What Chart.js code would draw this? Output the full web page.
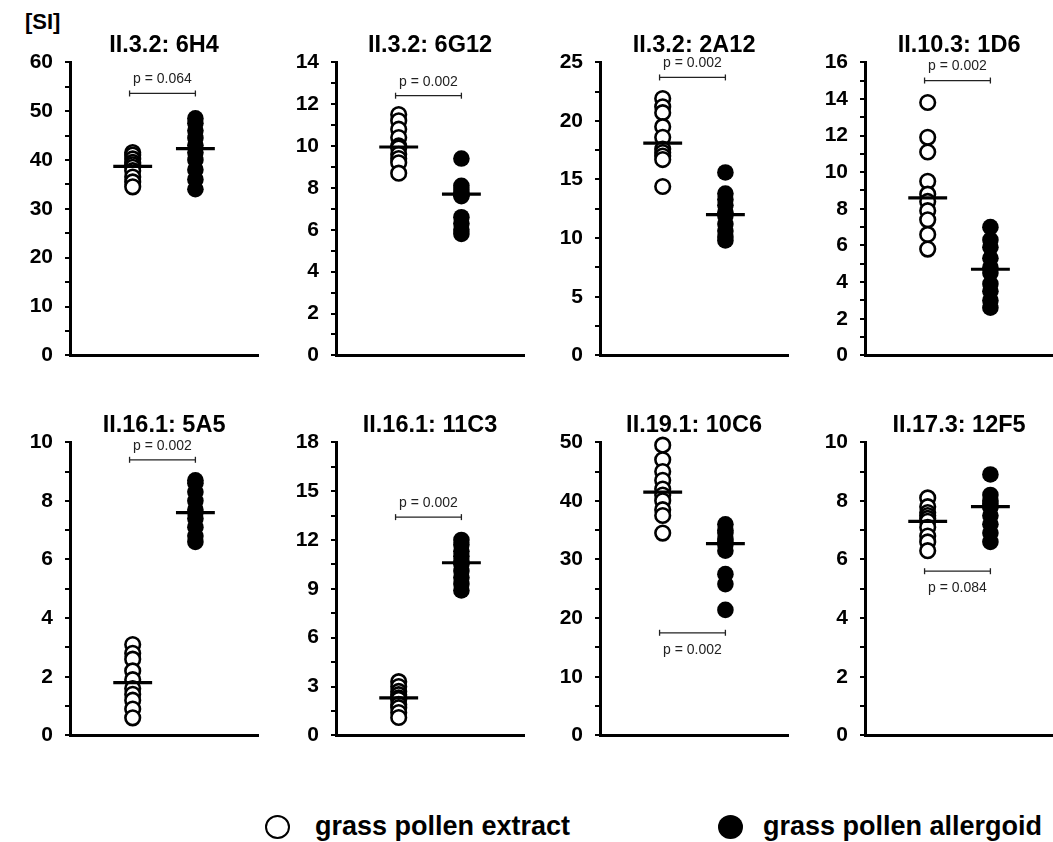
<!DOCTYPE html>
<html>
<head>
<meta charset="utf-8">
<script src="https://cdn.jsdelivr.net/npm/chart.js@4.4.0/dist/chart.umd.min.js"></script>
<style>
    body { margin: 0; width: 1053px; height: 842px; overflow: hidden; background: #fff; position: relative;
           font-family: "Liberation Sans", Arial, sans-serif; color: #000; }
    canvas { position: absolute; }
    #si { position: absolute; left: 25px; top: 9px; font-weight: bold; font-size: 22px; }
    .legend { position: absolute; top: 811px; font-weight: bold; font-size: 27px; line-height: 30px; }
    .mark { position: absolute; border-radius: 50%; box-sizing: border-box; }
</style>
</head>
<body>
<div id="si">[SI]</div>
<span class="mark" style="left:265px;top:815px;width:25px;height:24px;border:2.8px solid #000;"></span>
<div class="legend" style="left:315px;">grass pollen extract</div>
<span class="mark" style="left:718px;top:815px;width:25px;height:24px;background:#000;"></span>
<div class="legend" style="left:763px;">grass pollen allergoid</div>

<script>
// Panel titles and y scales
const titles = ['II.3.2: 6H4', 'II.3.2: 6G12', 'II.3.2: 2A12', 'II.10.3: 1D6',
                'II.16.1: 5A5', 'II.16.1: 11C3', 'II.19.1: 10C6', 'II.17.3: 12F5'];
const yMax = [60, 14, 25, 16, 10, 18, 50, 10];
const majorStep = [10, 2, 5, 2, 2, 3, 10, 2];
const minorStep = [5, 1, 2.5, 1, 1, 1.5, 5, 1];

// SI values, open circles (grass pollen extract)
const extract = [
    [41.5, 41.0, 40.2, 39.5, 39.0, 38.5, 37.8, 36.5, 35.5, 34.5],
    [11.5, 11.2, 10.8, 10.4, 10.0, 9.9, 9.6, 9.4, 9.2, 8.7],
    [21.9, 21.2, 20.7, 19.5, 18.6, 17.6, 17.3, 17.0, 16.7, 14.4],
    [13.8, 11.9, 11.1, 9.5, 8.8, 8.4, 7.9, 7.4, 6.6, 5.8],
    [3.1, 2.8, 2.6, 2.2, 1.9, 1.6, 1.4, 1.2, 0.9, 0.6],
    [3.3, 3.0, 2.7, 2.5, 2.3, 2.2, 1.9, 1.7, 1.4, 1.1],
    [49.5, 47.0, 45.0, 43.5, 42.0, 41.0, 40.0, 38.5, 37.5, 34.5],
    [8.1, 7.8, 7.6, 7.5, 7.4, 7.3, 7.1, 6.8, 6.6, 6.3]
];
// SI values, filled circles (grass pollen allergoid)
const allergoid = [
    [48.5, 47.5, 46.0, 44.5, 43.0, 41.5, 40.0, 38.0, 36.0, 34.0],
    [9.4, 8.1, 7.9, 7.7, 7.7, 7.6, 6.6, 6.3, 6.0, 5.8],
    [15.6, 13.8, 13.3, 12.8, 12.2, 11.9, 11.2, 10.6, 10.1, 9.8],
    [7.0, 6.3, 5.9, 5.3, 4.8, 4.5, 3.9, 3.5, 3.0, 2.6],
    [8.7, 8.6, 8.3, 8.0, 7.7, 7.6, 7.4, 7.1, 6.8, 6.6],
    [12.0, 11.7, 11.3, 11.0, 10.7, 10.5, 10.1, 9.7, 9.3, 8.9],
    [36.0, 35.0, 34.5, 33.5, 33.0, 32.5, 31.5, 27.5, 25.8, 21.4],
    [8.9, 8.2, 8.0, 7.9, 7.8, 7.8, 7.5, 7.2, 6.9, 6.6]
];
const extractMedian = [38.7, 9.95, 18.1, 8.6, 1.8, 2.3, 41.5, 7.3];
const allergoidMedian = [42.3, 7.7, 12.0, 4.7, 7.6, 10.6, 32.7, 7.8];

// p values and bracket heights
const pLabels = ['p = 0.064', 'p = 0.002', 'p = 0.002', 'p = 0.002',
                 'p = 0.002', 'p = 0.002', 'p = 0.002', 'p = 0.084'];
const pBarY = [53.6, 12.4, 23.7, 15.0, 9.4, 13.4, 17.5, 5.6];
const pTextBelow = [false, false, false, false, false, false, true, true];

const FONT = '"Liberation Sans", Arial, sans-serif';
const axisLeft = [70, 336, 600, 865];
const HALF = 0.31;

// Draws the p value text next to its bracket
const pTextPlugin = {
    id: 'pText',
    afterDatasetsDraw(chart, args, opts) {
        const i = opts.index;
        const ctx = chart.ctx;
        const x = chart.scales.x.getPixelForValue(1.475);
        const y = chart.scales.y.getPixelForValue(pBarY[i]);
        ctx.save();
        ctx.font = '14px ' + FONT;
        ctx.fillStyle = '#222';
        ctx.textAlign = 'center';
        ctx.textBaseline = 'middle';
        ctx.fillText(pLabels[i], x, pTextBelow[i] ? y + 17 : y - 14);
        ctx.restore();
    }
};

function lineSet(points, width, color) {
    return { type: 'line', data: points, borderColor: color, borderWidth: width,
             pointRadius: 0, fill: false, order: 0 };
}

function makePanel(i) {
    const col = i % 4, row = Math.floor(i / 4);
    const canvas = document.createElement('canvas');
    canvas.width = 263;
    canvas.height = 380;
    canvas.style.left = (axisLeft[col] - 65) + 'px';
    canvas.style.top = (row * 380) + 'px';
    document.body.appendChild(canvas);

    const bracket = {
        type: 'line',
        data: [{ x: 0.95, y: pBarY[i] }, { x: 2.0, y: pBarY[i] }],
        borderColor: '#222', borderWidth: 1.3,
        pointStyle: 'line', rotation: 90, pointRadius: 3,
        pointBorderColor: '#222', pointBorderWidth: 1.3, order: 0
    };

    new Chart(canvas.getContext('2d'), {
        type: 'scatter',
        data: {
            datasets: [
                lineSet([{ x: 1 - HALF, y: extractMedian[i] }, { x: 1 + HALF, y: extractMedian[i] }], 3.2, '#000'),
                lineSet([{ x: 2 - HALF, y: allergoidMedian[i] }, { x: 2 + HALF, y: allergoidMedian[i] }], 3.2, '#000'),
                bracket,
                {
                    data: extract[i].map(v => ({ x: 1, y: v })),
                    pointRadius: 7.3, pointBorderWidth: 2.6,
                    pointBackgroundColor: '#fff', pointBorderColor: '#000', order: 1
                },
                {
                    data: allergoid[i].map(v => ({ x: 2, y: v })),
                    pointRadius: 8.3, pointBorderWidth: 0,
                    pointBackgroundColor: '#000', pointBorderColor: '#000', order: 1
                }
            ]
        },
        options: {
            responsive: false,
            animation: false,
            events: [],
            clip: false,
            layout: { padding: { left: 5, right: 5, top: 0, bottom: 18 } },
            scales: {
                x: {
                    type: 'linear', min: 0, max: 3,
                    ticks: { display: false },
                    grid: { display: false, drawTicks: false },
                    border: { display: true, color: '#000', width: 3 }
                },
                y: {
                    min: 0, max: yMax[i],
                    afterFit: s => { s.width = 60; },
                    ticks: {
                        stepSize: minorStep[i],
                        autoSkip: false,
                        padding: 12,
                        color: '#000',
                        font: { family: FONT, size: 21, weight: 'bold' },
                        callback: v => {
                            const r = v / majorStep[i];
                            return Math.abs(r - Math.round(r)) < 1e-6 ? v : '';
                        }
                    },
                    grid: { drawOnChartArea: false, drawTicks: true, tickLength: 5, color: '#000', lineWidth: 2 },
                    border: { display: true, color: '#000', width: 3 }
                }
            },
            plugins: {
                legend: { display: false },
                tooltip: { enabled: false },
                title: {
                    display: true,
                    text: titles[i],
                    fullSize: false,
                    color: '#000',
                    font: { family: FONT, size: 23.5, weight: 'bold' },
                    padding: { top: 31, bottom: 3 }
                },
                pText: { index: i }
            }
        },
        plugins: [pTextPlugin]
    });
}

document.addEventListener('DOMContentLoaded', () => {
    for (let i = 0; i < titles.length; i++) makePanel(i);
});
</script>
</body>
</html>
